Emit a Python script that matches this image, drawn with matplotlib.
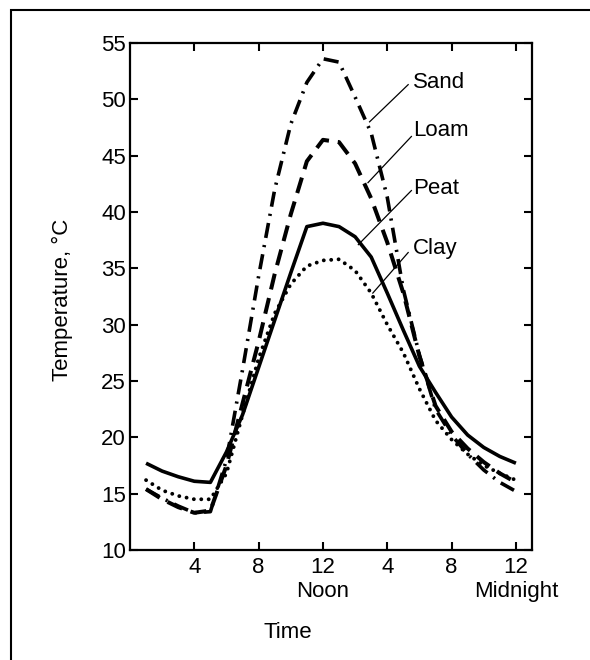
import matplotlib
matplotlib.use("Agg")
import matplotlib.pyplot as plt
from matplotlib.patches import Rectangle

plt.rcParams['font.family'] = ['Liberation Sans', 'DejaVu Sans']

hours = [1, 2, 3, 4, 5, 6, 7, 8, 9, 10, 11, 12, 13, 14, 15, 16, 17, 18, 19, 20, 21, 22, 23, 24]
sand = [15.4, 14.6, 13.9, 13.3, 13.4, 18.0, 26.0, 34.3, 42.0, 47.8, 51.5, 53.6, 53.3, 50.2, 47.0, 41.3, 33.1, 27.3, 22.5, 20.2, 18.5, 17.1, 16.0, 15.2]
loam = [15.4, 14.5, 13.8, 13.3, 13.5, 17.5, 23.0, 28.5, 34.5, 39.8, 44.5, 46.4, 46.2, 44.3, 41.2, 37.3, 32.8, 27.2, 22.8, 20.5, 19.0, 17.8, 16.8, 16.0]
peat = [17.7, 17.0, 16.5, 16.1, 16.0, 18.7, 22.0, 26.2, 30.4, 34.6, 38.7, 39.0, 38.7, 37.8, 36.0, 32.8, 29.5, 26.3, 24.0, 21.8, 20.2, 19.1, 18.3, 17.7]
clay = [16.2, 15.3, 14.8, 14.5, 14.5, 16.8, 22.0, 27.0, 31.0, 33.6, 35.2, 35.7, 35.8, 34.8, 32.8, 30.0, 27.5, 24.3, 21.5, 19.8, 18.5, 17.5, 16.8, 16.2]

soil_names = ["Sand", "Loam", "Peat", "Clay"]
label_pos = [(17.6, 51.5), (17.6, 47.2), (17.6, 42.1), (17.6, 36.8)]
leader_start = [(14.9, 48.0), (14.8, 42.6), (14.2, 37.1), (15.1, 32.8)]
leader_end = [(17.3, 51.3), (17.5, 46.7), (17.5, 41.9), (17.3, 36.4)]

xticks = [4, 8, 12, 16, 20, 24]
xticklabels = ["4", "8", "12\nNoon", "4", "8", "12\nMidnight"]
yticks = [10, 15, 20, 25, 30, 35, 40, 45, 50, 55]

fs = 16
fig = plt.figure(figsize=(5.9, 6.6), dpi=100)
ax = fig.add_axes([0.2203, 0.1667, 0.6814, 0.7682])

lw = 2.6
ax.plot(hours, sand, color='black', lw=lw, dashes=(4.2, 2.0, 0.6, 2.0), dash_capstyle='butt')
ax.plot(hours, loam, color='black', lw=lw + 0.3, dashes=(4.0, 2.2), dash_capstyle='butt')
ax.plot(hours, peat, color='black', lw=lw, solid_capstyle='butt')
ax.plot(hours, clay, color='black', lw=lw + 0.2, dashes=(0.01, 1.9), dash_capstyle='round')

for name, lp, ls, le in zip(soil_names, label_pos, leader_start, leader_end):
    ax.plot([ls[0], le[0]], [ls[1], le[1]], color='black', lw=0.9)
    ax.text(lp[0], lp[1], name, fontsize=fs, ha='left', va='center')

ax.set_xlim(0, 25)
ax.set_ylim(10, 55)
ax.set_xticks(xticks)
ax.set_xticklabels(xticklabels)
ax.set_yticks(yticks)
ax.tick_params(axis='both', direction='in', length=6, width=1.5, labelsize=fs,
               top=True, right=True)
ax.tick_params(axis='x', pad=5)
ax.tick_params(axis='y', pad=3)
for sp in ax.spines.values():
    sp.set_linewidth(1.6)

ax.text(0.393, -0.162, "Time", transform=ax.transAxes, fontsize=fs, ha='center', va='center')
ax.text(-0.169, 0.493, "Temperature, \u00b0C", transform=ax.transAxes, fontsize=fs,
        ha='center', va='center', rotation=90)

fig.patches.append(Rectangle((11 / 590, -0.05), 1.2, 1 - 10 / 660 + 0.05, transform=fig.transFigure,
                             fill=False, edgecolor='black', lw=1.5))

fig.savefig("out.png", dpi=100)
